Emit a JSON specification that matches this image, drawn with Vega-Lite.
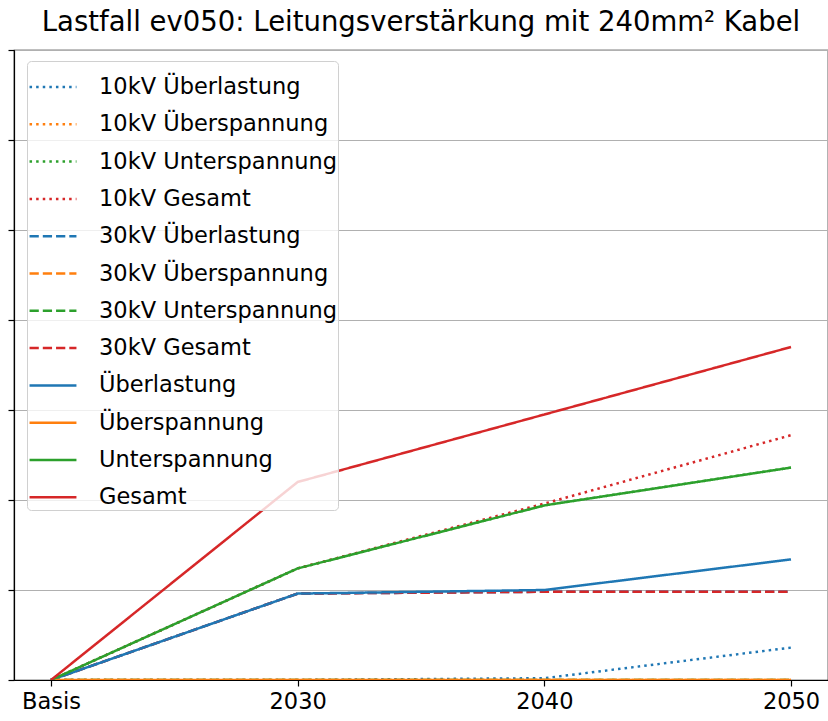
{
  "$schema": "https://vega.github.io/schema/vega-lite/v6.json",
  "autosize": "none",
  "width": 814,
  "height": 630,
  "padding": {"left": 14, "top": 50, "right": 0, "bottom": 41},
  "background": "white",
  "title": {
    "text": "Lastfall ev050: Leitungsverstärkung mit 240mm² Kabel",
    "font": "DejaVu Sans",
    "fontSize": 27.5,
    "fontWeight": "normal",
    "color": "black",
    "anchor": "middle",
    "offset": 13
  },
  "config": {
    "view": {"stroke": "black", "strokeWidth": 1.2},
    "font": "DejaVu Sans"
  },
  "data": {
    "values": [
      {"jahr": "Basis", "serie": "10kV Überlastung", "wert": 0},
      {"jahr": "2030", "serie": "10kV Überlastung", "wert": 0},
      {"jahr": "2040", "serie": "10kV Überlastung", "wert": 0.02},
      {"jahr": "2050", "serie": "10kV Überlastung", "wert": 0.36},
      {"jahr": "Basis", "serie": "10kV Überspannung", "wert": 0},
      {"jahr": "2030", "serie": "10kV Überspannung", "wert": 0},
      {"jahr": "2040", "serie": "10kV Überspannung", "wert": 0},
      {"jahr": "2050", "serie": "10kV Überspannung", "wert": 0},
      {"jahr": "Basis", "serie": "10kV Unterspannung", "wert": 0},
      {"jahr": "2030", "serie": "10kV Unterspannung", "wert": 1.24},
      {"jahr": "2040", "serie": "10kV Unterspannung", "wert": 1.94},
      {"jahr": "2050", "serie": "10kV Unterspannung", "wert": 2.36},
      {"jahr": "Basis", "serie": "10kV Gesamt", "wert": 0},
      {"jahr": "2030", "serie": "10kV Gesamt", "wert": 1.24},
      {"jahr": "2040", "serie": "10kV Gesamt", "wert": 1.96},
      {"jahr": "2050", "serie": "10kV Gesamt", "wert": 2.72},
      {"jahr": "Basis", "serie": "30kV Überlastung", "wert": 0},
      {"jahr": "2030", "serie": "30kV Überlastung", "wert": 0.96},
      {"jahr": "2040", "serie": "30kV Überlastung", "wert": 0.98},
      {"jahr": "2050", "serie": "30kV Überlastung", "wert": 0.98},
      {"jahr": "Basis", "serie": "30kV Überspannung", "wert": 0},
      {"jahr": "2030", "serie": "30kV Überspannung", "wert": 0},
      {"jahr": "2040", "serie": "30kV Überspannung", "wert": 0},
      {"jahr": "2050", "serie": "30kV Überspannung", "wert": 0},
      {"jahr": "Basis", "serie": "30kV Unterspannung", "wert": 0},
      {"jahr": "2030", "serie": "30kV Unterspannung", "wert": 0},
      {"jahr": "2040", "serie": "30kV Unterspannung", "wert": 0},
      {"jahr": "2050", "serie": "30kV Unterspannung", "wert": 0},
      {"jahr": "Basis", "serie": "30kV Gesamt", "wert": 0},
      {"jahr": "2030", "serie": "30kV Gesamt", "wert": 0.96},
      {"jahr": "2040", "serie": "30kV Gesamt", "wert": 0.98},
      {"jahr": "2050", "serie": "30kV Gesamt", "wert": 0.98},
      {"jahr": "Basis", "serie": "Überlastung", "wert": 0},
      {"jahr": "2030", "serie": "Überlastung", "wert": 0.96},
      {"jahr": "2040", "serie": "Überlastung", "wert": 1.0},
      {"jahr": "2050", "serie": "Überlastung", "wert": 1.34},
      {"jahr": "Basis", "serie": "Überspannung", "wert": 0},
      {"jahr": "2030", "serie": "Überspannung", "wert": 0},
      {"jahr": "2040", "serie": "Überspannung", "wert": 0},
      {"jahr": "2050", "serie": "Überspannung", "wert": 0},
      {"jahr": "Basis", "serie": "Unterspannung", "wert": 0},
      {"jahr": "2030", "serie": "Unterspannung", "wert": 1.24},
      {"jahr": "2040", "serie": "Unterspannung", "wert": 1.94},
      {"jahr": "2050", "serie": "Unterspannung", "wert": 2.36},
      {"jahr": "Basis", "serie": "Gesamt", "wert": 0},
      {"jahr": "2030", "serie": "Gesamt", "wert": 2.2},
      {"jahr": "2040", "serie": "Gesamt", "wert": 2.95},
      {"jahr": "2050", "serie": "Gesamt", "wert": 3.7}
    ]
  },
  "mark": {"type": "line", "strokeWidth": 2.5, "clip": true},
  "encoding": {
    "x": {
      "field": "jahr",
      "type": "ordinal",
      "sort": ["Basis", "2030", "2040", "2050"],
      "scale": {"type": "point", "padding": 0.15},
      "axis": {
        "title": null,
        "labelAngle": 0,
        "labelFont": "DejaVu Sans",
        "labelFontSize": 22.5,
        "labelColor": "black",
        "labelPadding": 4,
        "tickColor": "black",
        "tickSize": 6,
        "tickWidth": 1.2,
        "domainColor": "black",
        "domainWidth": 1.2,
        "grid": false
      }
    },
    "y": {
      "field": "wert",
      "type": "quantitative",
      "scale": {"domain": [0, 7], "nice": false, "zero": true},
      "axis": {
        "title": null,
        "labels": false,
        "values": [0, 1, 2, 3, 4, 5, 6, 7],
        "tickColor": "black",
        "tickSize": 6,
        "tickWidth": 1.2,
        "domainColor": "black",
        "domainWidth": 1.2,
        "grid": true,
        "gridColor": "#b0b0b0",
        "gridWidth": 1.2
      }
    },
    "color": {
      "field": "serie",
      "type": "nominal",
      "scale": {
        "domain": ["10kV Überlastung", "10kV Überspannung", "10kV Unterspannung", "10kV Gesamt", "30kV Überlastung", "30kV Überspannung", "30kV Unterspannung", "30kV Gesamt", "Überlastung", "Überspannung", "Unterspannung", "Gesamt"],
        "range": ["#1f77b4", "#ff7f0e", "#2ca02c", "#d62728", "#1f77b4", "#ff7f0e", "#2ca02c", "#d62728", "#1f77b4", "#ff7f0e", "#2ca02c", "#d62728"]
      },
      "legend": {
        "title": null,
        "orient": "none",
        "legendX": 13,
        "legendY": 11,
        "symbolType": "stroke",
        "symbolSize": 2200,
        "symbolStrokeWidth": 2.5,
        "labelFont": "DejaVu Sans",
        "labelFontSize": 22.5,
        "labelColor": "black",
        "labelOffset": 21,
        "rowPadding": 0.3,
        "padding": 1,
        "fillColor": "rgba(255,255,255,0.8)",
        "strokeColor": "#d0d0d0",
        "cornerRadius": 4,
        "labelLimit": 400
      }
    },
    "strokeDash": {
      "field": "serie",
      "type": "nominal",
      "scale": {
        "domain": ["10kV Überlastung", "10kV Überspannung", "10kV Unterspannung", "10kV Gesamt", "30kV Überlastung", "30kV Überspannung", "30kV Unterspannung", "30kV Gesamt", "Überlastung", "Überspannung", "Unterspannung", "Gesamt"],
        "range": [[2.5, 4.1], [2.5, 4.1], [2.5, 4.1], [2.5, 4.1], [9.25, 4], [9.25, 4], [9.25, 4], [9.25, 4], [1, 0], [1, 0], [1, 0], [1, 0]]
      },
      "legend": null
    }
  }
}
